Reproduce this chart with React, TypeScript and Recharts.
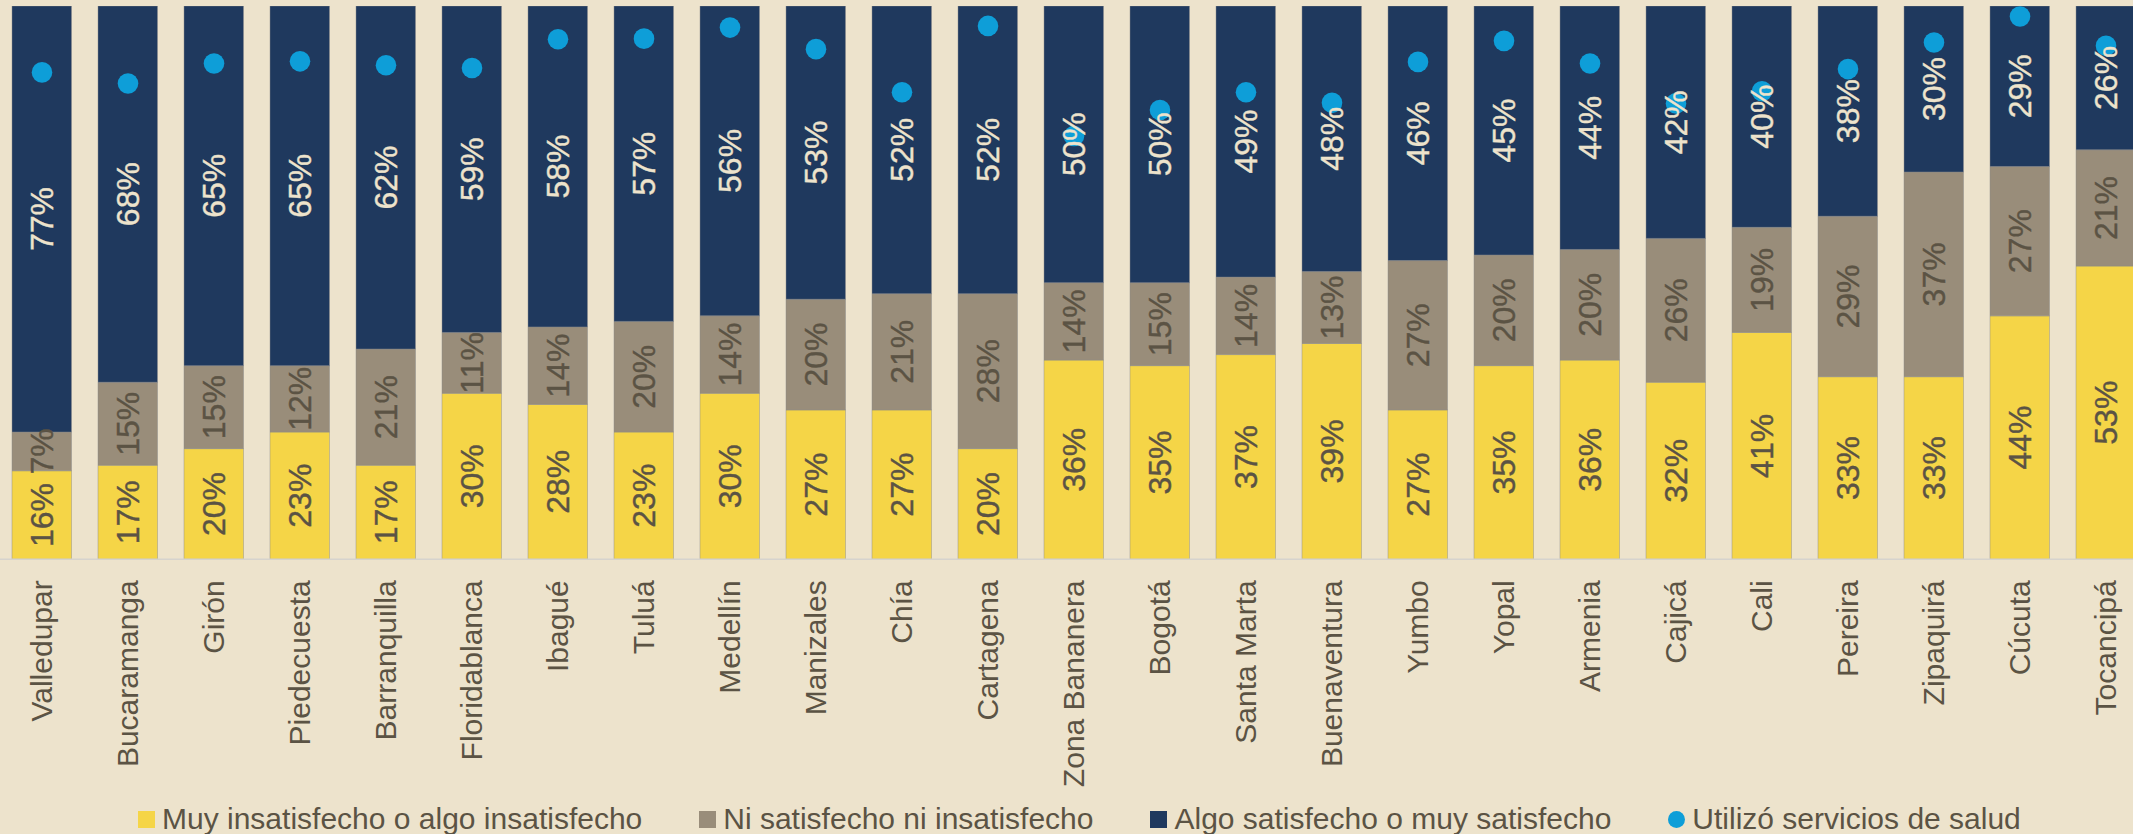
import React from 'react';
import { ComposedChart, Bar, Line, XAxis, YAxis, LabelList } from 'recharts';

const cities = [
  'Valledupar', 'Bucaramanga', 'Girón', 'Piedecuesta', 'Barranquilla', 'Floridablanca',
  'Ibagué', 'Tuluá', 'Medellín', 'Manizales', 'Chía', 'Cartagena', 'Zona Bananera',
  'Bogotá', 'Santa Marta', 'Buenaventura', 'Yumbo', 'Yopal', 'Armenia', 'Cajicá',
  'Cali', 'Pereira', 'Zipaquirá', 'Cúcuta', 'Tocancipá',
];
const insatisfecho = [16, 17, 20, 23, 17, 30, 28, 23, 30, 27, 27, 20, 36, 35, 37, 39, 27, 35, 36, 32, 41, 33, 33, 44, 53];
const neutral = [7, 15, 15, 12, 21, 11, 14, 20, 14, 20, 21, 28, 14, 15, 14, 13, 27, 20, 20, 26, 19, 29, 37, 27, 21];
const satisfecho = [77, 68, 65, 65, 62, 59, 58, 57, 56, 53, 52, 52, 50, 50, 49, 48, 46, 45, 44, 42, 40, 38, 30, 29, 26];
const utilizo = [88, 86, 89.6, 90, 89.3, 88.8, 94, 94.1, 96.1, 92.2, 84.4, 96.4, 76.5, 81.2, 84.4, 82.5, 89.9, 93.7, 89.6, 82.4, 84.6, 88.6, 93.4, 98.1, 92.8];

const seriesNames = [
  'Muy insatisfecho o algo insatisfecho',
  'Ni satisfecho ni insatisfecho',
  'Algo satisfecho o muy satisfecho',
  'Utilizó servicios de salud',
];

const YELLOW = '#F5D547';
const GRAY = '#998D7A';
const NAVY = '#1F395E';
const DOT = '#0E9ED8';
const BG = '#EDE3CC';
const DARK = '#5B5344';
const FONT = '"Liberation Sans", Arial, Helvetica, sans-serif';

const data = cities.map((city, i) => ({
  city,
  ins: insatisfecho[i],
  neu: neutral[i],
  sat: satisfecho[i],
  uti: utilizo[i],
}));

const makeLabel = (color: string) => (props: any) => {
  const x = Number(props.x);
  const y = Number(props.y);
  const w = Number(props.width);
  const h = Number(props.height);
  const cx = x + w / 2;
  const cy = y + h / 2;
  return (
    <text
      x={cx}
      y={cy}
      dy="0.36em"
      transform={`rotate(-90 ${cx} ${cy})`}
      textAnchor="middle"
      fill={color}
      fontSize={32}
      fontFamily={FONT}
      stroke={color}
      strokeWidth={0.4}
    >
      {`${props.value}%`}
    </text>
  );
};

const CityTick = (props: any) => {
  const { x, y, payload } = props;
  const ty = Number(y) + 21;
  return (
    <text
      x={x}
      y={ty}
      dy="0.35em"
      transform={`rotate(-90 ${x} ${ty})`}
      textAnchor="end"
      fill={DARK}
      fontSize={30}
      fontFamily={FONT}
    >
      {payload.value}
    </text>
  );
};

const legendItems = [
  { name: seriesNames[0], color: YELLOW, shape: 'square' },
  { name: seriesNames[1], color: GRAY, shape: 'square' },
  { name: seriesNames[2], color: NAVY, shape: 'square' },
  { name: seriesNames[3], color: DOT, shape: 'circle' },
];

const BAR_SIZE = 59.5;
const barStroke = 'rgba(140,140,140,0.45)';

export default function App() {
  return (
    <div
      style={{
        position: 'absolute',
        left: 0,
        top: 0,
        width: 2133,
        height: 834,
        overflow: 'hidden',
        background: BG,
      }}
    >
      <div style={{ position: 'absolute', left: -1, top: 0 }}>
        <ComposedChart
          width={2150}
          height={834}
          data={data}
          margin={{ top: 6, right: 0, bottom: 0, left: 0 }}
        >
          <XAxis
            dataKey="city"
            interval={0}
            height={274.7}
            tickSize={0}
            tickMargin={0}
            tickLine={false}
            axisLine={{ stroke: '#D6D3CD', strokeWidth: 1.5 }}
            tick={<CityTick />}
          />
          <XAxis dataKey="city" xAxisId="ov" hide />
          <YAxis hide type="number" domain={[0, 100]} allowDataOverflow />
          <Bar dataKey="ins" stackId="a" fill={YELLOW} stroke={barStroke} strokeWidth={1} barSize={BAR_SIZE} isAnimationActive={false} />
          <Bar dataKey="neu" stackId="a" fill={GRAY} stroke={barStroke} strokeWidth={1} barSize={BAR_SIZE} isAnimationActive={false} />
          <Bar dataKey="sat" stackId="a" fill={NAVY} stroke={barStroke} strokeWidth={1} barSize={BAR_SIZE} isAnimationActive={false} />
          <Line
            dataKey="uti"
            stroke="none"
            dot={{ r: 10.3, fill: DOT, stroke: 'none' }}
            activeDot={false}
            isAnimationActive={false}
          />
          <Bar dataKey="ins" xAxisId="ov" stackId="ov" fill="transparent" barSize={BAR_SIZE} isAnimationActive={false}>
            <LabelList dataKey="ins" content={makeLabel(DARK)} />
          </Bar>
          <Bar dataKey="neu" xAxisId="ov" stackId="ov" fill="transparent" barSize={BAR_SIZE} isAnimationActive={false}>
            <LabelList dataKey="neu" content={makeLabel(DARK)} />
          </Bar>
          <Bar dataKey="sat" xAxisId="ov" stackId="ov" fill="transparent" barSize={BAR_SIZE} isAnimationActive={false}>
            <LabelList dataKey="sat" content={makeLabel(BG)} />
          </Bar>
        </ComposedChart>
      </div>
      <div
        style={{
          position: 'absolute',
          left: 138,
          top: 804,
          height: 30,
          display: 'flex',
          alignItems: 'center',
          gap: 57,
          fontFamily: FONT,
          fontSize: 30,
          lineHeight: '30px',
          color: DARK,
          whiteSpace: 'nowrap',
        }}
      >
        {legendItems.map((it) => (
          <div key={it.name} style={{ display: 'flex', alignItems: 'center', gap: 7 }}>
            <span
              style={{
                display: 'inline-block',
                width: 17,
                height: 17,
                background: it.color,
                borderRadius: it.shape === 'circle' ? '50%' : 0,
              }}
            />
            <span>{it.name}</span>
          </div>
        ))}
      </div>
    </div>
  );
}
